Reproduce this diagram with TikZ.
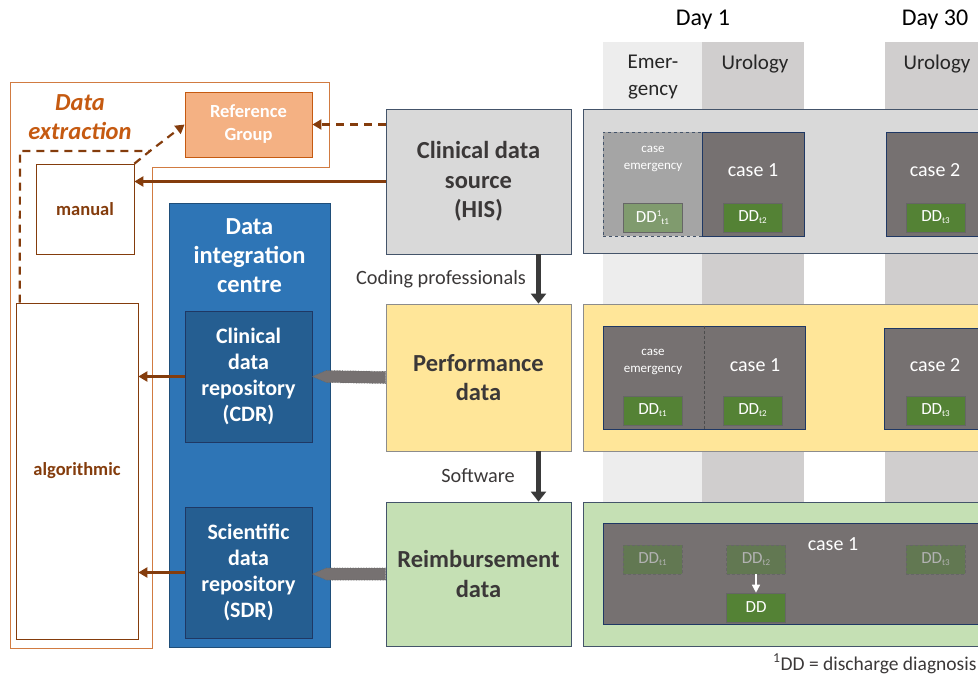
\documentclass[tikz,border=0pt]{standalone}
\usepackage{fontspec}
\setmainfont{Carlito}
\usepackage{pgf,tikz}
\usetikzlibrary{arrows.meta}

\definecolor{brn}{HTML}{843C0C}
\definecolor{orng}{HTML}{C55A11}
\definecolor{refsalmon}{HTML}{F4B183}
\definecolor{dicblue}{HTML}{2E75B6}
\definecolor{dicline}{HTML}{1F4E79}
\definecolor{repblue}{HTML}{255E91}
\definecolor{navy}{HTML}{1F3864}
\definecolor{slate}{HTML}{44546A}
\definecolor{hisgray}{HTML}{D9D9D9}
\definecolor{perfyel}{HTML}{FFE699}
\definecolor{reimgrn}{HTML}{C5E0B4}
\definecolor{casegray}{HTML}{767171}
\definecolor{emcase}{HTML}{A5A5A5}
\definecolor{ddgreen}{HTML}{548235}
\definecolor{ddlight}{HTML}{809B6E}
\definecolor{ghost}{HTML}{627852}
\definecolor{emgray}{HTML}{EDEDED}
\definecolor{urogray}{HTML}{D0CECE}
\definecolor{txtdark}{HTML}{3B3838}
\definecolor{arrdark}{HTML}{3A3A3A}

\newcommand{\ddidx}[1]{{\fontsize{9}{9}\selectfont\raisebox{-2pt}{#1}}}

\begin{document}
\begin{tikzpicture}[x=1pt,y=-1pt]

\tikzset{box/.style = {shape=rectangle,draw,inner sep=0pt,align=center}}
\tikzset{srcbox/.style = {box,draw=slate,line width=0.8pt,minimum width=185pt,text=txtdark,font=\fontsize{24.5}{29.5}\selectfont\bfseries}}
\tikzset{panel/.style = {box,line width=0.8pt,minimum width=417pt}}
\tikzset{casebox/.style = {box,fill=casegray,draw=navy,line width=0.7pt}}
\tikzset{casetxt/.style = {text=white,font=\fontsize{20}{24}\selectfont}}
\tikzset{smalltxt/.style = {text=white,align=center,font=\fontsize{13}{17}\selectfont}}
\tikzset{ddbox/.style = {box,fill=ddgreen,draw=black!60,line width=0.6pt,minimum width=59pt,minimum height=29pt,text=white,font=\fontsize{17}{20}\selectfont}}
\tikzset{ghostdd/.style = {ddbox,fill=ghost,densely dashed,text=black!30}}
\tikzset{colbg/.style = {box,draw=none,minimum height=460pt}}
\tikzset{colhead/.style = {align=center,text=black!85,font=\fontsize{21}{27}\selectfont}}
\tikzset{repbox/.style = {box,fill=repblue,draw=navy,line width=0.7pt,minimum width=127pt,minimum height=131pt,text=white,font=\fontsize{22}{26}\selectfont\bfseries}}
\tikzset{extbox/.style = {box,fill=white,draw=brn,line width=0.7pt,text=brn,font=\fontsize{18.5}{22}\selectfont\bfseries}}
\tikzset{edge/.style = {draw=brn,line width=2.2pt,-{Triangle[width=10pt,length=9pt]}}}
\tikzset{dashedge/.style = {edge,dash pattern=on 8pt off 6pt}}
\tikzset{flow/.style = {draw=arrdark,line width=5pt,-{Triangle[width=15pt,length=10pt]}}}
\tikzset{blockarr/.style = {fill=casegray,draw=black!60,densely dotted,line width=0.6pt}}

\useasboundingbox (0,0) rectangle (978,675);
\clip (0,0) rectangle (978,675);

% columns and days
\node[colbg,fill=emgray,minimum width=99pt] (colem) at (652.5,272) {};
\node[colbg,fill=urogray,minimum width=102pt] (coluro) at (753,272) {};
\node[colbg,fill=urogray,minimum width=115pt] (coluroo) at (942.5,272) {};
\node[colhead] (hdem) at (653,77.5) {Emer-\\gency};
\node[colhead] (hduro) at (755,64) {Urology};
\node[colhead] (hduroo) at (937,64) {Urology};
\node[text=black,font=\fontsize{24}{28}\selectfont] (dayone) at (703,20) {Day 1};
\node[text=black,font=\fontsize{24}{28}\selectfont] (daythirty) at (935,20) {Day 30};

% panels
\node[panel,fill=hisgray,draw=slate,minimum height=144pt] (panhis) at (791.5,181) {};
\node[panel,fill=perfyel,draw=black!45,minimum height=147pt] (panperf) at (791.5,377.5) {};
\node[panel,fill=reimgrn,draw=slate,minimum height=144pt] (panreim) at (791.5,574) {};

% cases HIS
\node[casebox,fill=emcase,draw=slate,dashed,minimum width=99pt,minimum height=104pt] (caseema) at (652.5,184) {};
\node[casebox,minimum width=102pt,minimum height=104pt] (caseonea) at (753,184) {};
\node[casebox,minimum width=114pt,minimum height=104pt] (casetwoa) at (943,184) {};
\node[smalltxt] (emtxta) at (653,158.5) {case\\emergency};
\node[casetxt] (onetxta) at (753,170) {case 1};
\node[casetxt] (twotxta) at (935,170) {case 2};
\node[ddbox,fill=ddlight] (ddonea) at (652.5,217.5) {DD{\fontsize{9}{9}\selectfont\raisebox{6pt}{1}\raisebox{-2pt}{t1}}};
\node[ddbox] (ddtwoa) at (752.5,217.5) {DD\ddidx{t2}};
\node[ddbox] (ddthreea) at (935.5,217.5) {DD\ddidx{t3}};

% cases performance
\node[casebox,minimum width=202pt,minimum height=103pt] (casepm) at (704,377.5) {};
\draw[black!70,densely dashed,line width=0.6pt] (casepm.north) -- (casepm.south);
\node[casebox,minimum width=116pt,minimum height=101pt] (casetwob) at (942,378.5) {};
\node[smalltxt] (emtxtb) at (653,361.5) {case\\emergency};
\node[casetxt] (onetxtb) at (755,365) {case 1};
\node[casetxt] (twotxtb) at (935,365) {case 2};
\node[ddbox] (ddoneb) at (652.5,410.5) {DD\ddidx{t1}};
\node[ddbox] (ddtwob) at (752.5,410.5) {DD\ddidx{t2}};
\node[ddbox] (ddthreeb) at (935.5,410.5) {DD\ddidx{t3}};

% case reimbursement
\node[casebox,minimum width=397pt,minimum height=101pt] (casere) at (801.5,573.5) {};
\node[casetxt] (onetxtc) at (833,544) {case 1};
\node[ghostdd] (ddonec) at (652.5,559.5) {DD\ddidx{t1}};
\node[ghostdd] (ddtwoc) at (756,559.5) {DD\ddidx{t2}};
\node[ghostdd] (ddthreec) at (935.5,559.5) {DD\ddidx{t3}};
\node[ddbox] (ddc) at (756,607.5) {DD};
\draw[white,line width=1.4pt,-{Triangle[width=8pt,length=8pt]}] (ddtwoc.south) -- (ddc.north);

% data sources
\node[srcbox,fill=hisgray,minimum height=145pt] (his) at (478.5,181.5) {Clinical data\\source\\(HIS)};
\node[srcbox,fill=perfyel,draw=black!45,minimum height=147pt] (perf) at (478.5,377.5) {Performance\\data};
\node[srcbox,fill=reimgrn,minimum height=144pt] (reimb) at (478.5,574) {Reimbursement\\data};
\node[text=txtdark,font=\fontsize{20.3}{24}\selectfont] (codlbl) at (441,279) {Coding professionals};
\node[text=txtdark,font=\fontsize{20.3}{24}\selectfont] (softlbl) at (478,476) {Software};

% data integration centre
\node[box,fill=dicblue,draw=dicline,line width=0.8pt,minimum width=161pt,minimum height=444pt] (dic) at (249.5,425) {};
\node[align=center,text=white,font=\fontsize{24.5}{29}\selectfont\bfseries] (dictitle) at (249.5,256) {Data\\integration\\centre};
\node[repbox] (cdr) at (248.5,376.5) {Clinical\\data\\repository\\(CDR)};
\node[repbox] (sdr) at (248.5,572.5) {Scientific\\data\\repository\\(SDR)};

% data extraction
\draw[draw=orng!80,line width=0.9pt] (10,82) -- (329,82) -- (329,167) -- (152,167) -- (152,648) -- (10,648) -- cycle;
\node[align=center,text=orng,font=\fontsize{24.5}{29}\selectfont\bfseries\itshape] (extr) at (80,117.5) {Data\\extraction};
\node[box,fill=refsalmon,draw=orng,line width=0.8pt,minimum width=127pt,minimum height=65pt,text=white,font=\fontsize{18.5}{23}\selectfont\bfseries] (refgrp) at (248.5,124.5) {Reference\\Group};
\node[extbox,minimum width=98pt,minimum height=90pt] (manual) at (85,209) {manual};
\node[extbox,minimum width=122pt,minimum height=336pt] (algo) at (77,471) {algorithmic};
\coordinate (bend) at (20,151);
\coordinate (join) at (150,151);

%edges
\draw[flow] ([xshift=60pt]his.south) -- ([xshift=60pt]perf.north);
\draw[flow] ([xshift=60pt]perf.south) -- ([xshift=60pt]reimb.north);
\draw[dashedge] (his.west |- refgrp.east) -- (refgrp.east);
\draw[edge] (his.west) -- (his.west -| manual.east);
\draw[draw=brn,line width=2.2pt,dash pattern=on 8pt off 6pt] ([xshift=4pt]algo.north west) -- (bend) -- (join);
\draw[dashedge] (manual.north east) -- (join) -- (refgrp.west);
\draw[edge] (cdr.west) -- (cdr.west -| algo.east);
\draw[edge] (sdr.west) -- (sdr.west -| algo.east);
\draw[blockarr] ([yshift=-6pt]perf.west) -- ([xshift=14pt,yshift=-6pt]cdr.east) -- (cdr.east) -- ([xshift=14pt,yshift=6pt]cdr.east) -- ([yshift=6pt]perf.west) -- cycle;
\draw[blockarr] ([yshift=-6pt]reimb.west) -- ([xshift=14pt,yshift=-6pt]sdr.east |- reimb.west) -- (sdr.east |- reimb.west) -- ([xshift=14pt,yshift=6pt]sdr.east |- reimb.west) -- ([yshift=6pt]reimb.west) -- cycle;

% footnote
\node[anchor=east,text=txtdark,font=\fontsize{19.5}{23}\selectfont] (foot) at (980,664) {\textsuperscript{1}DD = discharge diagnosis};
\end{tikzpicture}
\end{document}
